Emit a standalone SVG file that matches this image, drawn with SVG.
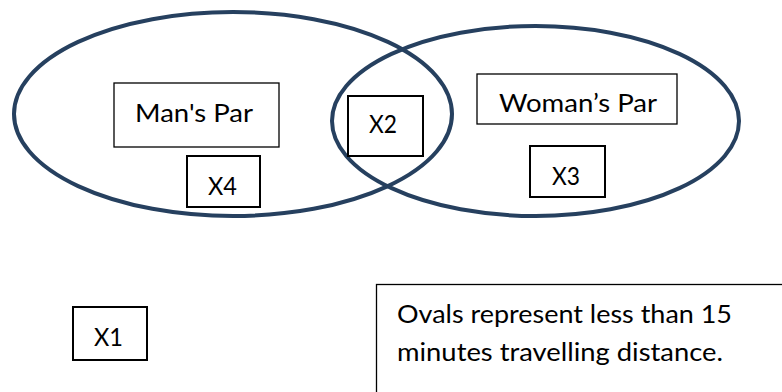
<svg xmlns="http://www.w3.org/2000/svg" width="782" height="392" viewBox="0 0 782 392">
<style>
.oval{fill:none;stroke:#26405f;stroke-width:4}
.box{fill:#fff;stroke:#000;stroke-width:2}
.thin{fill:#fff;stroke:#000;stroke-width:1.3}
.t{font-family:Lato,"Open Sans","Liberation Sans",sans-serif;font-size:25px;fill:#000}
</style>
<rect width="782" height="392" fill="#fff"/>
<g id="connectors"></g>
<g id="oval-man"><ellipse class="oval" cx="233" cy="114" rx="219" ry="102"/></g>
<g id="oval-woman"><ellipse class="oval" cx="535.5" cy="121" rx="203.5" ry="95"/></g>
<g id="mans-par"><rect class="thin" x="114" y="83" width="165" height="64"/><text class="t" x="135" y="122" textLength="118" lengthAdjust="spacingAndGlyphs">Man's Par</text></g>
<g id="x4"><rect class="box" x="187" y="156" width="73" height="51"/><text class="t" x="208" y="195" textLength="29" lengthAdjust="spacingAndGlyphs">X4</text></g>
<g id="x2"><rect class="box" x="348" y="96" width="75" height="60"/><text class="t" x="369" y="133" textLength="28" lengthAdjust="spacingAndGlyphs">X2</text></g>
<g id="womans-par"><rect class="thin" x="477" y="74" width="200" height="50"/><text class="t" x="499" y="112" textLength="158" lengthAdjust="spacingAndGlyphs">Woman’s Par</text></g>
<g id="x3"><rect class="box" x="530" y="146" width="75" height="51"/><text class="t" x="552" y="185" textLength="28" lengthAdjust="spacingAndGlyphs">X3</text></g>
<g id="x1"><rect class="box" x="73" y="307" width="74" height="53"/><text class="t" x="94" y="346" textLength="29" lengthAdjust="spacingAndGlyphs">X1</text></g>
<g id="note"><rect class="thin" x="376.5" y="284.5" width="420" height="120" stroke-width="1.5"/><text class="t" x="397" y="323" textLength="335" lengthAdjust="spacingAndGlyphs">Ovals represent less than 15</text><text class="t" x="397" y="361" textLength="326" lengthAdjust="spacingAndGlyphs">minutes travelling distance.</text></g>
</svg>
